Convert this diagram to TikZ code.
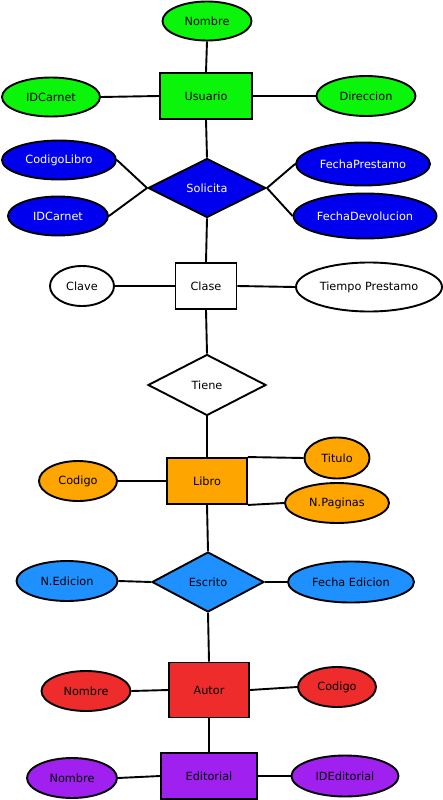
\documentclass[tikz,border=0pt]{standalone}
\usepackage{fontspec}
\setmainfont{DejaVu Sans}
\usetikzlibrary{shapes.geometric}
\definecolor{cgreen}{RGB}{10,245,10}
\definecolor{cblue}{RGB}{0,0,238}
\definecolor{corange}{RGB}{255,165,0}
\definecolor{cdodger}{RGB}{30,144,255}
\definecolor{cred}{RGB}{238,44,44}
\definecolor{cpurple}{RGB}{160,32,240}
\begin{document}
\begin{tikzpicture}[x=1pt,y=-1pt,
  every node/.style={font=\fontsize{11.3}{13}\selectfont, line width=1.9pt, draw=black, inner sep=0pt},
  attr/.style={ellipse, minimum width=#1},
  ent/.style={rectangle},
  rel/.style={diamond, aspect=2},
  link/.style={line width=1.9pt}]
\useasboundingbox (0,0) rectangle (443,800);
\fill[white] (0,0) rectangle (443,800);
% Usuario
\node[ent, fill=cgreen, minimum width=92pt, minimum height=46pt] (usuario) at (206,96) {Usuario};
\node[attr=89pt, minimum height=39pt, fill=cgreen] (nombre1) at (207,21) {Nombre};
\node[attr=98pt, minimum height=39pt, fill=cgreen] (idcarnet1) at (51,97) {IDCarnet};
\node[attr=99pt, minimum height=40pt, fill=cgreen] (direccion) at (366,96) {Direccion};
% Solicita
\node[rel, fill=cblue, text=white, minimum width=118pt, minimum height=59pt] (solicita) at (207,188) {Solicita};
\node[attr=114pt, minimum height=39pt, fill=cblue, text=white] (codlibro) at (59,160) {CodigoLibro};
\node[attr=100pt, minimum height=39pt, fill=cblue, text=white] (idcarnet2) at (58,216) {IDCarnet};
\node[attr=134pt, minimum height=43pt, fill=cblue, text=white] (fprestamo) at (363,164) {FechaPrestamo};
\node[attr=143pt, minimum height=45pt, fill=cblue, text=white] (fdevol) at (365,216) {FechaDevolucion};
% Clase
\node[ent, fill=white, minimum width=61pt, minimum height=46pt] (clase) at (206,286) {Clase};
\node[attr=64pt, minimum height=40pt, fill=white] (clave) at (82,286) {Clave};
\node[attr=146pt, minimum height=49pt, fill=white] (tprestamo) at (369,287) {Tiempo Prestamo};
% Tiene
\node[rel, fill=white, minimum width=118pt, minimum height=61pt] (tiene) at (207,385) {Tiene};
% Libro
\node[ent, fill=corange, minimum width=80pt, minimum height=46pt] (libro) at (207,481) {Libro};
\node[attr=78pt, minimum height=40pt, fill=corange] (codigo1) at (78,481) {Codigo};
\node[attr=65pt, minimum height=41pt, fill=corange] (titulo) at (337,458) {Titulo};
\node[attr=104pt, minimum height=40pt, fill=corange] (npaginas) at (337,503) {N.Paginas};
% Escrito
\node[rel, fill=cdodger, minimum width=112pt, minimum height=60pt] (escrito) at (208,582) {Escrito};
\node[attr=101pt, minimum height=40pt, fill=cdodger] (nedicion) at (67,581) {N.Edicion};
\node[attr=126pt, minimum height=41pt, fill=cdodger] (fedicion) at (351,582) {Fecha Edicion};
% Autor
\node[ent, fill=cred, minimum width=80pt, minimum height=55pt] (autor) at (209,690) {Autor};
\node[attr=89pt, minimum height=40pt, fill=cred] (nombre2) at (86,691) {Nombre};
\node[attr=78pt, minimum height=40pt, fill=cred] (codigo2) at (337,687) {Codigo};
% Editorial
\node[ent, fill=cpurple, minimum width=96pt, minimum height=46pt] (editorial) at (209,776) {Editorial};
\node[attr=90pt, minimum height=40pt, fill=cpurple] (nombre3) at (72,778) {Nombre};
\node[attr=107pt, minimum height=41pt, fill=cpurple] (ideditorial) at (345,776) {IDEditorial};
% connectors
\begin{scope}[link]
\draw (nombre1.south) -- (usuario.north);
\draw (idcarnet1.east) -- (usuario.west);
\draw (direccion.west) -- (usuario.east);
\draw (usuario.south) -- (solicita.north);
\draw (codlibro.east) -- (solicita.west);
\draw (idcarnet2.east) -- (solicita.west);
\draw (fprestamo.west) -- (solicita.east);
\draw (fdevol.west) -- (solicita.east);
\draw (solicita.south) -- (clase.north);
\draw (clave.east) -- (clase.west);
\draw (tprestamo.west) -- (clase.east);
\draw (clase.south) -- (tiene.north);
\draw (tiene.south) -- (libro.north);
\draw (codigo1.east) -- (libro.west);
\draw (libro.north east) -- (titulo.west);
\draw (libro.south east) -- (npaginas.west);
\draw (libro.south) -- (escrito.north);
\draw (nedicion.east) -- (escrito.west);
\draw (fedicion.west) -- (escrito.east);
\draw (escrito.south) -- (autor.north);
\draw (nombre2.east) -- (autor.west);
\draw (codigo2.west) -- (autor.east);
\draw (autor.south) -- (editorial.north);
\draw (nombre3.east) -- (editorial.west);
\draw (ideditorial.west) -- (editorial.east);
\end{scope}
\end{tikzpicture}
\end{document}
